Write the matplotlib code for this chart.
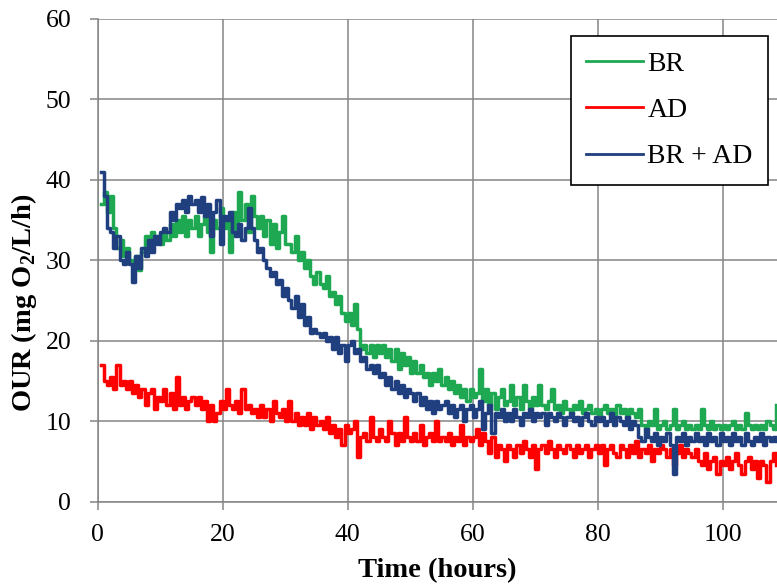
import numpy as np
import matplotlib
matplotlib.use("Agg")
import matplotlib.pyplot as plt

plt.rcParams['font.family'] = ['Liberation Serif', 'DejaVu Serif']
plt.rcParams['mathtext.fontset'] = 'custom'
plt.rcParams['mathtext.rm'] = 'Liberation Serif'
plt.rcParams['mathtext.bf'] = 'Liberation Serif:bold'

# Time (hours), sampled every 0.5 h
time_h = np.arange(0.5, 108.6, 0.5)

# BR (green)
br = [37, 38.5, 36, 38, 34, 31.5, 32.5, 30.5, 31.5, 30,
      29.5, 30.5, 28.8, 31, 33, 32, 33.5, 32.5, 33, 32,
      33.5, 32.5, 34.5, 33, 35, 33.5, 35.5, 33, 35, 34,
      35.5, 33, 34.5, 35.5, 33.5, 31, 35, 34, 36.5, 34,
      35, 31, 36, 33.5, 38.5, 35, 37, 33.5, 38, 35.5,
      34, 35.5, 33, 35, 32, 34.5, 31.5, 33.5, 35.5, 32,
      32, 31, 33, 30, 31, 29, 30, 28, 27, 28.5,
      27, 26.5, 28, 25.5, 26, 24.5, 25.5, 23.5, 22.5, 23.5,
      22, 24.5, 21.5, 19, 19.5, 18.5, 19.5, 18, 19.5, 18.5,
      19.5, 18, 19, 17.5, 19, 16.5, 18.5, 17, 18, 16,
      17.5, 16, 17, 15.5, 16, 14.5, 16, 15, 16.5, 14.5,
      15.5, 14, 15, 13.5, 14.5, 13, 14, 12.5, 14, 13,
      13.5, 16.5, 12.5, 14, 12, 13.5, 11.5, 13, 14, 12,
      12.5, 14.5, 12, 13, 11.5, 14.5, 12.5, 11.5, 13, 12,
      14.5, 12, 11.5, 12.5, 14, 11.5, 12, 11, 12.5, 11.5,
      11, 12, 11.5, 12.5, 11, 11.5, 12, 11, 11.5, 10.5,
      11.5, 12, 11, 11.5, 10.5, 12, 11, 11.5, 10.5, 11.5,
      11, 10.5, 11.5, 9.5, 9, 10, 9.5, 11.5, 9, 9.5,
      10, 9, 9.5, 11.5, 9, 9.5, 10, 9, 9.5, 9,
      9.5, 9, 11.5, 9.5, 9, 10, 9, 9.5, 9, 9.5,
      9, 9.5, 10, 9, 9.5, 9, 11, 9.5, 9, 9.5,
      9, 9.5, 9, 10, 9.5, 9, 12]

# AD (red)
ad = [17, 15, 14.5, 15.5, 14, 17, 14.5, 15, 14, 15,
      13.5, 14.5, 13, 14, 12, 13.5, 14, 11.5, 13, 12.5,
      14, 12, 13.5, 11.5, 15.5, 12, 13, 11.5, 12.5, 13,
      12, 13, 11.5, 12.5, 10, 12, 10, 11, 12.5, 11.5,
      14, 12, 11.5, 12.5, 11, 14, 11.5, 12, 11, 11.5,
      10.5, 12, 10.5, 11.5, 10, 12.5, 11, 10.5, 11.5, 10,
      12.5, 10, 11, 9.5, 10.5, 9.5, 11, 9, 10.5, 9.5,
      10, 9, 10.5, 8.5, 9.5, 8, 9, 7, 9.5, 8.5,
      9, 10, 5.6, 8, 8.5, 7.5, 10.5, 8, 7.5, 9,
      8, 7.5, 10, 8.5, 7, 8.5, 7.5, 10.5, 8, 7.5,
      8.5, 7.5, 9.5, 7, 8, 8.5, 7.5, 10, 7.5, 8,
      7.5, 8.5, 7, 8, 7.5, 9.5, 7, 8, 7.5, 8,
      9, 7, 8.5, 7.5, 6, 8, 5.5, 7, 6.5, 5,
      7, 6.5, 5.5, 7, 6, 7.5, 6.5, 5.5, 7, 4,
      6.5, 7, 6, 7.5, 6.5, 5.5, 7, 6.5, 6, 7,
      6.5, 5.5, 7, 6, 6.5, 7, 5.5, 6.5, 7, 6,
      7, 4.5, 6.5, 7, 6, 5.5, 7, 6.5, 5.5, 7,
      6, 7.5, 5.5, 6.5, 6, 7, 5, 6.5, 6, 7,
      6.5, 5.5, 6.5, 4.5, 6, 7, 5.5, 6.5, 6, 5.5,
      6.5, 5, 4.5, 6, 4, 5, 5.5, 3.5, 5, 4.5,
      5.5, 4, 5, 6, 4.5, 3.5, 5, 5.5, 4, 5,
      3, 5, 4.5, 2.5, 5, 6, 4.5]

# BR + AD (blue)
br_ad = [41, 38, 34, 33.5, 31.5, 33, 30, 29.5, 31, 29.5,
         27.3, 30.5, 29, 31.5, 30.5, 32.5, 31, 33, 32, 33.5,
         34, 33.5, 36, 35, 37, 36.5, 37.5, 36, 38, 37,
         37.5, 36, 37.8, 35.5, 37, 33, 36, 37.5, 32, 35.5,
         35, 36, 33.5, 33, 34.5, 32.5, 34, 36.5, 34, 32.5,
         31, 31.5, 30, 29, 28, 28.5, 27, 27.5, 25.5, 26.5,
         25, 24, 25.5, 23, 24.5, 22, 23, 21, 21.5, 21,
         20.5, 21, 20, 20.5, 19, 20.5, 18.5, 19.5, 17.5, 19.5,
         20, 18.5, 19, 17.5, 18, 16.5, 17, 16, 17, 15.5,
         16, 14.5, 15.5, 14, 15, 13.5, 14.5, 13, 14, 13.5,
         12.5, 13.5, 12, 13, 11.5, 12.5, 11, 12.5, 11.5, 12,
         12.5, 11, 12, 10.5, 11.5, 12, 10, 11.5, 12, 10.5,
         11.5, 12.5, 9, 11, 12, 8.5, 11, 10.5, 11.5, 10,
         11, 10, 11.5, 10.5, 9.5, 11, 10.5, 11.5, 10, 11,
         10.5, 11, 9.5, 11, 10.5, 10, 11, 10.5, 9.5, 10.5,
         11, 10, 10.5, 9.5, 10.5, 11, 10, 9.5, 10.5, 10,
         10.5, 9.5, 10, 11, 9.5, 10.5, 10, 9.5, 10.5, 9,
         10, 9.5, 8, 7.5, 9, 8, 7.5, 8.5, 7, 8,
         7.5, 8.5, 7, 3.5, 8, 7.5, 8.5, 7, 8, 7.5,
         8.5, 7.5, 8, 7, 8.5, 7.5, 8, 7, 8.5, 7.5,
         8, 7, 8.5, 7.5, 8, 7, 8.5, 7.5, 7, 8,
         7.5, 8.5, 7, 8, 7.5, 8, 7.5]

series_names = ["BR", "AD", "BR + AD"]
series_colors = ["#1DA851", "#FF0000", "#1F3F7F"]
y_ticks = [0, 10, 20, 30, 40, 50, 60]
x_ticks = [0, 20, 40, 60, 80, 100]

fig = plt.figure(figsize=(7.77, 5.86), dpi=100)
ax = fig.add_axes([0.1257, 0.1439, 0.8743, 0.8242])

for vals, name, col in zip([br, ad, br_ad], series_names, series_colors):
    ax.plot(time_h, vals, color=col, lw=2.5, drawstyle='steps-post', label=name)

ax.set_xlim(0, 108.7)
ax.set_ylim(0, 60)
ax.set_xticks(x_ticks)
ax.set_yticks(y_ticks)
ax.grid(True, color='#858585', lw=1.1)
ax.set_axisbelow(True)
for s in ['top', 'right']:
    ax.spines[s].set_visible(False)
for s in ['left', 'bottom']:
    ax.spines[s].set_color('#858585')
    ax.spines[s].set_linewidth(1.1)
ax.tick_params(axis='both', direction='out', length=6, width=1.1,
               color='#858585', labelsize=18.5, labelcolor='black')
ax.tick_params(axis='y', pad=13)
ax.tick_params(axis='x', pad=10)

ax.set_xlabel('Time (hours)', fontsize=20.5, fontweight='bold', labelpad=9)
ax.set_ylabel(r'OUR (mg O$_\mathbf{2}$/L/h)', fontsize=20.5, fontweight='bold')
ax.yaxis.set_label_coords(-0.087, 0.413)

leg = ax.legend(loc='upper right', bbox_to_anchor=(0.9868, 0.9642),
                borderaxespad=0, fontsize=20, frameon=True, fancybox=False,
                edgecolor='black', framealpha=1, handlelength=2.05,
                handletextpad=0.15, labelspacing=0.75, borderpad=0.55)
leg.get_frame().set_linewidth(1.2)
for h in leg.get_lines():
    h.set_linewidth(2.0)

fig.savefig('out.png', dpi=100)
